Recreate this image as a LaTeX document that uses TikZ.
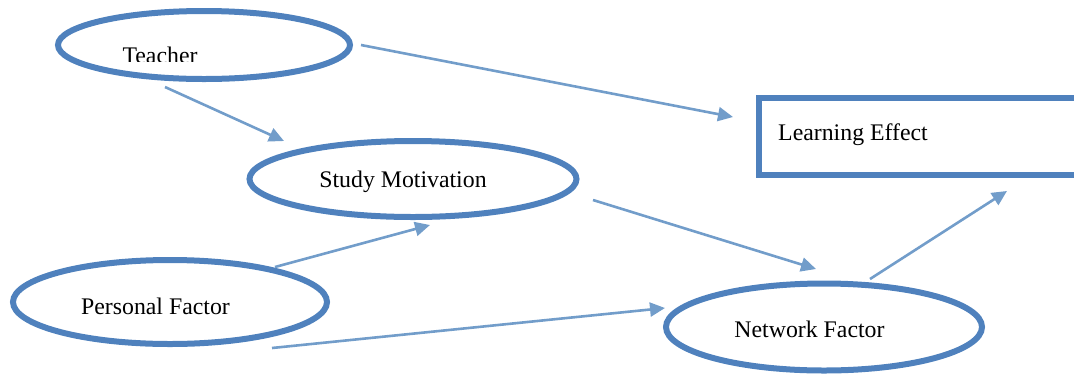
\documentclass[tikz,border=0pt]{standalone}
\usepackage{fontspec}
\setmainfont{Liberation Serif}
\usetikzlibrary{shapes.geometric,arrows.meta,calc}
\definecolor{boxblue}{HTML}{4F81BD}
\definecolor{arrowblue}{HTML}{729DCA}
\tikzset{
  oval/.style={ellipse, draw=boxblue, line width=6pt, inner sep=0pt},
  box/.style={rectangle, draw=boxblue, line width=6pt, anchor=west, minimum width=340pt, minimum height=77pt},
  txt/.style={anchor=base, font=\fontsize{23.8}{28}\selectfont},
  arr/.style={arrowblue, line width=2.6pt, -{Triangle[length=15pt,width=14pt]}}
}
\begin{document}
\begin{tikzpicture}[x=1pt, y=-1pt]
            % 1. Page size and cut at the right edge
            \clip (0,0) rectangle (1074,376);

            % 2. Draw the ovals and the box
            \node[oval, minimum width=292pt, minimum height=68pt] (teacher) at (204,45) {};
            \node[oval, minimum width=327pt, minimum height=76pt] (study) at (413,179) {};
            \node[oval, minimum width=314pt, minimum height=84pt] (personal) at (170,302) {};
            \node[oval, minimum width=316pt, minimum height=87pt] (network) at (824,327) {};
            \node[box] (learn) at (756,136.5) {};

            % 3. Add the texts (the top one is cut off)
            \begin{scope}
              \clip (100,30) rectangle (230,61);
              \node[txt] (teachertxt) at (160,63) {Teacher};
            \end{scope}
            \node[txt] (studytxt) at (403,187) {Study Motivation};
            \node[txt] (personaltxt) at (155.5,314) {Personal Factor};
            \node[txt] (networktxt) at (809.5,337) {Network Factor};
            \node[txt] (learntxt) at (853,140) {Learning Effect};

            % 4. Draw the arrows
            \draw[arr] ($(teacher.east)+(8,0)$) -- ($(learn.west)+(-23,-19.5)$);
            \draw[arr] ($(teacher.south)+(-39,5)$) -- ($(study.north)+(-129,3)$);
            \draw[arr] ($(personal.north)+(105,10)$) -- ($(study.south)+(17,5)$);
            \draw[arr] ($(study.east)+(13.5,21)$) -- ($(network.north)+(-8,-11.5)$);
            \draw[arr] ($(personal.south)+(102,1)$) -- ($(network.west)+(2,-19)$);
            \draw[arr] ($(network.north)+(46,-1.5)$) -- ($(learn.south)+(78,13)$);
          \end{tikzpicture}
\end{document}
